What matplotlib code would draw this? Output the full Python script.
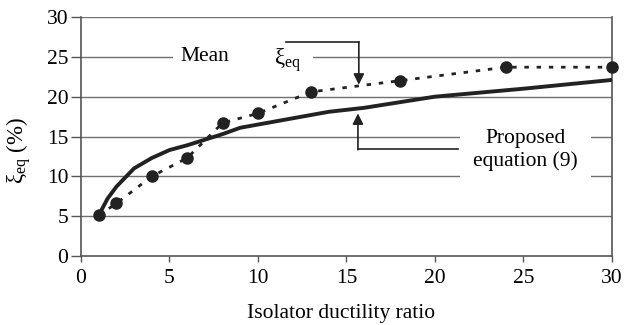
import numpy as np
import matplotlib.pyplot as plt
from matplotlib.patches import Rectangle

plt.rcParams['font.family'] = 'Liberation Serif'
plt.rcParams['mathtext.fontset'] = 'custom'
plt.rcParams['mathtext.rm'] = 'Liberation Serif'
plt.rcParams['mathtext.it'] = 'Liberation Serif:italic'

# mean damping points (dotted line)
mu_mean = [1, 2, 4, 6, 8, 10, 13, 18, 24, 30]
xi_mean = [5.1, 6.6, 10.0, 12.3, 16.7, 17.9, 20.6, 22.0, 23.7, 23.7]

# proposed equation (9) curve
mu_eq = [1, 1.5, 2, 3, 4, 5, 6, 7, 8, 9, 10, 11, 12, 13, 14, 16, 18, 20, 25, 30]
xi_eq = [5.1, 7.2, 8.7, 11.0, 12.3, 13.3, 13.9, 14.6, 15.3, 16.1, 16.5, 16.9,
         17.3, 17.7, 18.1, 18.6, 19.3, 20.0, 21.0, 22.1]

xticks = [0, 5, 10, 15, 20, 25, 30]
yticks = [0, 5, 10, 15, 20, 25, 30]

fs = 15.5

fig = plt.figure(figsize=(6.25, 3.25), dpi=100)
ax = fig.add_axes([0.1296, 0.2123, 0.8494, 0.7354])

for y in yticks[1:]:
    ax.axhline(y, color='#707070', lw=1.0, zorder=1)

ax.plot(mu_eq, xi_eq, color='#222222', lw=2.8, zorder=3, solid_capstyle='round')
ax.plot(mu_mean, xi_mean, color='#222222', lw=2.0, ls=(0, (1.6, 2.8)), zorder=3)
ax.plot(mu_mean, xi_mean, 'o', color='#222222', ms=8, zorder=4, clip_on=False)

# white box behind "Mean" and xi_eq
ax.add_patch(Rectangle((5.2, 24.0), 7.9, 2.0, facecolor='white', edgecolor='none', zorder=2))
ax.text(7.0, 25.0, 'Mean', fontsize=fs, ha='center', va='center', zorder=5)
ax.text(11.7, 24.6, 'ξ$_{\\mathrm{eq}}$', fontsize=fs + 1, ha='center', va='center', zorder=5)

# arrow to mean curve
ax.plot([11.6, 15.7], [26.85, 26.85], color='#222222', lw=1.2, zorder=5)
ax.annotate('', xy=(15.7, 21.5), xytext=(15.7, 26.9),
            arrowprops=dict(arrowstyle='-|>', color='#222222', lw=1.2,
                            mutation_scale=16, shrinkA=0, shrinkB=0), zorder=5)

# proposed equation label
ax.add_patch(Rectangle((21.4, 8.5), 7.4, 7.5, facecolor='white', edgecolor='none', zorder=2))
ax.text(25.1, 13.3, 'Proposed\nequation (9)', fontsize=fs, ha='center', va='center',
        linespacing=1.2, zorder=5)
ax.plot([21.3, 15.65], [13.4, 13.4], color='#222222', lw=1.2, zorder=5)
ax.annotate('', xy=(15.65, 17.9), xytext=(15.65, 13.35),
            arrowprops=dict(arrowstyle='-|>', color='#222222', lw=1.2,
                            mutation_scale=16, shrinkA=0, shrinkB=0), zorder=5)

ax.set_xlim(0, 30)
ax.set_ylim(0, 30)
ax.set_xticks(xticks)
ax.set_yticks(yticks)
ax.tick_params(axis='both', labelsize=fs, color='#555555', direction='out', width=1.0)
ax.tick_params(axis='y', length=7, pad=2)
ax.tick_params(axis='x', length=4.5, pad=5)

ax.spines['top'].set_visible(False)
for s in ['left', 'right', 'bottom']:
    ax.spines[s].set_color('#555555')
    ax.spines[s].set_linewidth(1.2)

ax.set_xlabel('Isolator ductility ratio', fontsize=fs)
ax.set_ylabel('ξ$_{\\mathrm{eq}}$ (%)', fontsize=fs + 1)
ax.yaxis.set_label_coords(-0.09, 0.44)
ax.xaxis.set_label_coords(0.49, -0.2)

fig.savefig('out.png', dpi=100)
